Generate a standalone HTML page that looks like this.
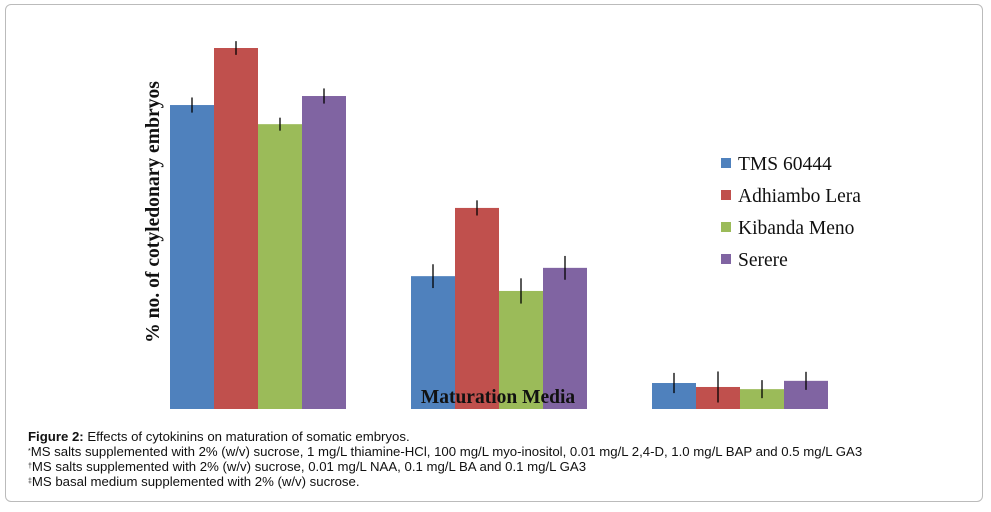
<!DOCTYPE html>
<html><head><meta charset="utf-8"><style>
body{margin:0;background:#fff;width:991px;height:512px;overflow:hidden;position:relative;font-family:"Liberation Sans",sans-serif}
.frame{position:absolute;left:5px;top:4px;width:976px;height:496px;border:1px solid #bbb;border-radius:6px}
.cap{position:absolute;left:28px;top:429px;font-size:13.2px;line-height:15px;color:#111}
sup{font-size:7px;vertical-align:top}
</style></head><body>
<div class="frame"></div>
<svg id="chart" width="991" height="512" style="position:absolute;left:0;top:0">
<text x="0" y="0" transform="translate(159,212) rotate(-90)" text-anchor="middle" font-family="Liberation Serif,serif" font-weight="bold" font-size="19.6" fill="#111">% no. of cotyledonary embryos</text>
</svg>
<div class="cap"><b>Figure 2:</b> Effects of cytokinins on maturation of somatic embryos.<br><sup>*</sup>MS salts supplemented with 2% (w/v) sucrose, 1 mg/L thiamine-HCl, 100 mg/L myo-inositol, 0.01 mg/L 2,4-D, 1.0 mg/L BAP and 0.5 mg/L GA3<br><sup>†</sup>MS salts supplemented with 2% (w/v) sucrose, 0.01 mg/L NAA, 0.1 mg/L BA and 0.1 mg/L GA3<br><sup>‡</sup>MS basal medium supplemented with 2% (w/v) sucrose.</div>
<script>
const categories=["Medium 1","Medium 2","Medium 3"];
const seriesNames=["TMS 60444","Adhiambo Lera","Kibanda Meno","Serere"];
const tms=[84.2,36.8,7.2];
const adhiambo=[100,55.7,6.1];
const kibanda=[78.9,32.7,5.5];
const serere=[86.7,39.1,7.8];
const errTms=[2.1,3.3,2.8];
const errAdhiambo=[1.9,2.1,4.3];
const errKibanda=[1.8,3.5,2.5];
const errSerere=[2.1,3.3,2.5];
const colors=["#4f81bd","#c0504d","#9bbb59","#8064a2"];
const series=[tms,adhiambo,kibanda,serere];
const errs=[errTms,errAdhiambo,errKibanda,errSerere];
const svg=document.getElementById('chart');
const NS="http://www.w3.org/2000/svg";
const base=409,k=3.61,barW=44,groupStart=170,groupStep=241;
function y(v){return base-v*k;}
function x(ci,si){return groupStart+ci*groupStep+si*barW;}
categories.forEach((c,ci)=>{series.forEach((s,si)=>{
 const r=document.createElementNS(NS,'rect');
 r.setAttribute('x',x(ci,si));r.setAttribute('y',y(s[ci]));r.setAttribute('width',barW);r.setAttribute('height',base-y(s[ci]));r.setAttribute('fill',colors[si]);
 
 
 svg.appendChild(r);
 const l=document.createElementNS(NS,'line');const cx=x(ci,si)+barW/2;
 l.setAttribute('x1',cx);l.setAttribute('x2',cx);l.setAttribute('y1',y(s[ci]+errs[si][ci]));l.setAttribute('y2',y(s[ci]-errs[si][ci]));l.setAttribute('stroke','#000');l.setAttribute('stroke-width','1.3');
 
 
 svg.appendChild(l);
});});
const xt=document.createElementNS(NS,'text');
xt.setAttribute('x',498);xt.setAttribute('y',403);xt.setAttribute('text-anchor','middle');xt.setAttribute('font-family','Liberation Serif,serif');xt.setAttribute('font-weight','bold');xt.setAttribute('font-size','19.5');xt.setAttribute('fill','#111');


xt.textContent='Maturation Media';
svg.appendChild(xt);
seriesNames.forEach((n,i)=>{
 const g=document.createElementNS(NS,'g');
 
 
 const r=document.createElementNS(NS,'rect');r.setAttribute('x',721);r.setAttribute('y',158+i*32);r.setAttribute('width',10);r.setAttribute('height',10);r.setAttribute('fill',colors[i]);
 const t=document.createElementNS(NS,'text');t.setAttribute('x',738);t.setAttribute('y',170+i*32);t.setAttribute('font-family','Liberation Serif,serif');t.setAttribute('font-size','19.5');t.setAttribute('fill','#111');t.textContent=n;
 g.appendChild(r);g.appendChild(t);svg.appendChild(g);
});
</script>
</body></html>
